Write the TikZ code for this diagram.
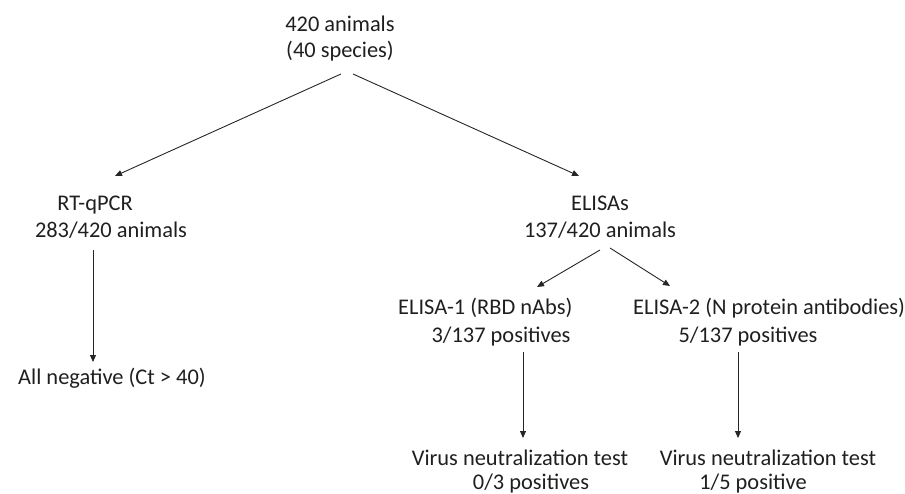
\documentclass[tikz,border=0pt]{standalone}
\usepackage{fontspec}
\setmainfont{Carlito}
\usetikzlibrary{arrows.meta}
\tikzset{
  lbl/.style={inner sep=0pt, anchor=base, text=black!88, font=\fontsize{22.4}{26}\selectfont},
  lblw/.style={lbl, anchor=base west},
  conn/.style={draw=black!85, line width=0.9pt, -{Triangle[length=7pt,width=6pt]}}
}
\begin{document}
\begin{tikzpicture}[x=1pt,y=-1pt]
\useasboundingbox (0,0) rectangle (905,494);
% texts
\node[lbl] (top1) at (340,32) {420 animals};
\node[lbl] (top2) at (340,58) {(40 species)};
\node[lbl] (rt1) at (95,211) {RT-qPCR};
\node[lbl] (rt2) at (111,238) {283/420 animals};
\node[lblw] (neg) at (18,384) {All negative (Ct > 40)};
\node[lbl] (el1) at (600,211) {ELISAs};
\node[lbl] (el2) at (600,238) {137/420 animals};
\node[lblw] (e1a) at (398,315) {ELISA-1 (RBD nAbs)};
\node[lbl] (e1b) at (501,342) {3/137 positives};
\node[lblw] (e2a) at (633,315) {ELISA-2 (N protein antibodies)};
\node[lbl] (e2b) at (748,342) {5/137 positives};
\node[lbl] (v1a) at (520,465) {Virus neutralization test};
\node[lbl] (v1b) at (531,489) {0/3 positives};
\node[lbl] (v2a) at (768,465) {Virus neutralization test};
\node[lbl] (v2b) at (753,489) {1/5 positive};
% connector ends
\coordinate (topL) at (341,74);
\coordinate (topR) at (353,74);
\coordinate (rtIn) at (115,176);
\coordinate (elIn) at (579,176);
\coordinate (rtOut) at (93,250);
\coordinate (negIn) at (93,362);
\coordinate (elOutL) at (600,250);
\coordinate (elOutR) at (610,248);
\coordinate (e1In) at (537,287);
\coordinate (e2In) at (670,286);
\coordinate (e1Out) at (523,352);
\coordinate (e2Out) at (738,352);
\coordinate (v1In) at (523,438);
\coordinate (v2In) at (738,438);
% connectors
\draw[conn] (topL) -- (rtIn);
\draw[conn] (topR) -- (elIn);
\draw[conn] (rtOut) -- (negIn);
\draw[conn] (elOutL) -- (e1In);
\draw[conn] (elOutR) -- (e2In);
\draw[conn] (e1Out) -- (v1In);
\draw[conn] (e2Out) -- (v2In);
\end{tikzpicture}
\end{document}
